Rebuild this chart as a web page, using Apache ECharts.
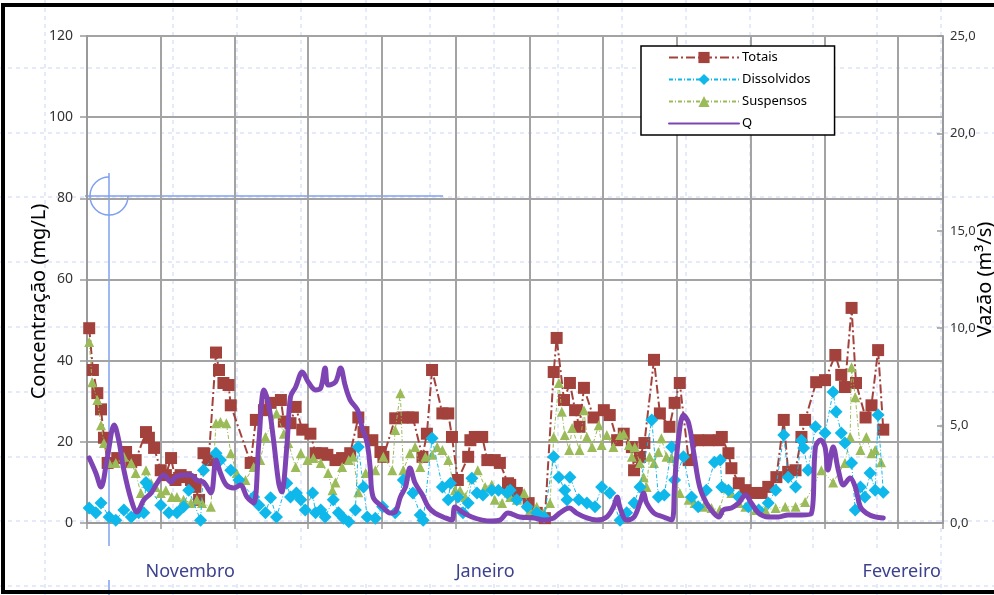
<!DOCTYPE html>
<html><head><meta charset="utf-8">
<script src="https://cdn.jsdelivr.net/npm/echarts@6/dist/echarts.min.js"></script>
<style>html,body{margin:0;padding:0;background:#fff}#c{width:994px;height:595px}</style>
</head><body><div id="c"></div>
<script>
// ---- Data (x = day index) ----
const totaisDia = [0.3,0.8,1.4,1.9,2.3,2.8,4.1,5.3,6.0,6.6,8.0,8.4,9.1,10.0,10.7,11.4,12.0,12.7,13.4,14.1,14.7,15.2,15.8,16.5,17.5,17.9,18.5,19.2,19.5,22.2,22.9,24.0,24.9,26.3,26.7,27.6,28.3,29.2,30.3,31.0,31.9,32.6,33.7,34.6,35.7,36.8,37.5,38.7,39.8,40.2,41.8,42.8,43.6,44.2,45.5,46.1,46.8,48.2,49.0,49.5,50.3,51.7,52.0,52.6,53.6,54.3,55.3,56.0,57.1,57.4,58.3,59.9,61.0,62.1,63.3,63.7,64.7,65.5,66.2,66.8,67.4,68.7,70.1,70.9,71.9,72.8,73.9,74.2,75.0,75.6,76.9,77.7,79.0,79.7,80.4,81.6,82.9,84.3,85.7,86.1,87.0,87.4,88.4,89.3,90.7,91.5,92.4,93.5,94.5,95.1,96.1,96.9,97.4,98.9,100.1,101.5,102.3,102.8,103.7,104.3,105.6,106.4,107.3,108.0];
const totaisVal = [48,37.7,32,28,21,14.8,16,17.5,15,15.5,22.4,21,18.5,13,11.8,16,10.6,11.8,11.3,10.6,8.9,5.7,17.2,15.5,42,37.7,34.5,34,29,14.8,25.4,27.8,29.6,30.3,25,24.6,28.6,23,22,17.2,17.2,16.8,15.5,16,17.2,26,22.4,20.4,17.5,16.3,25.8,26,26,26,16.3,22,37.7,27,27,21.2,10.6,16.3,20.4,21.2,21.2,15.5,15.5,14.8,9.8,9.4,7.4,4.9,2.5,1.2,37.2,45.6,30.3,34.5,27.8,23.7,33.3,26,27.8,26.6,20.4,22,18.7,13,16.3,19.7,40.2,27,23.7,29.6,34.5,15.5,20.4,20.4,20.4,21.2,17.2,13.5,9.8,8.1,7.4,7.4,8.9,11.3,25.4,12.6,13,21.2,25.4,34.7,35.2,41.4,36.5,33.5,53,34.5,26,29,42.6,23];

const dissolvidosDia = [0.3,1.2,1.9,3.0,3.9,5.0,6.0,7.0,7.7,8.0,8.4,10.0,11.1,12.2,13.1,13.8,15.4,15.8,17.5,18.1,19.5,20.6,22.6,23.3,24.2,24.9,25.7,27.1,27.6,28.4,29.0,29.6,30.6,31.0,31.7,32.3,33.4,34.1,34.8,35.5,36.4,36.8,37.5,38.0,39.1,40.1,41.8,42.9,44.2,45.2,45.6,46.8,48.2,49.0,49.3,50.3,51.0,51.7,52.2,52.9,53.7,54.9,55.8,57.0,57.4,58.3,59.7,61.0,62.0,63.3,64.0,64.8,65.1,65.5,66.7,67.8,68.9,69.8,70.9,72.3,73.2,74.2,75.0,76.6,77.5,78.3,79.3,79.7,80.9,82.0,82.9,84.0,85.1,85.9,86.1,87.0,88.4,89.7,91.1,92.4,93.4,94.5,95.1,96.1,96.9,97.2,97.8,98.8,100.1,101.2,101.6,102.3,102.8,103.7,104.2,104.9,105.5,106.2,106.9,107.3,108.0];
const dissolvidosVal = [3.7,2.5,4.9,1.5,0.7,3.2,1.5,2.5,2.5,10,8.9,4.4,2.5,2.5,4,8.1,0.7,13,17.2,15.5,13,10.6,6.4,4.4,2.5,6.2,1.5,9.8,6.4,7.4,5.7,3.2,7.4,2.5,3.2,1.5,5.7,2.5,1.2,0.3,3.2,18.7,8.9,1.5,1.2,4,2.5,10.6,7.4,2,0.7,20.9,8.9,5.7,9.8,6.4,2.5,4.9,11,7.4,6.9,8.1,8.1,7.4,8.1,5.7,4,2.5,1.5,16.3,11.3,8.1,5.7,11.3,5.7,4.9,4,8.9,7.4,0.7,2.5,4.9,8.9,25.4,6.4,6.9,18.7,10.6,16.3,6.4,4,8.1,15,15.5,8.9,8.1,6.4,4,3.2,4.9,8.1,21.7,11.3,8.9,20.4,18.5,13,23.7,22.2,32.3,27.4,22.2,19.7,14.8,3.2,8.9,6.4,12.3,8.1,26.6,7.6];

const suspensosDia = [0.3,0.7,1.4,1.9,2.3,3.0,3.9,5.0,6.0,6.6,7.3,8.0,8.7,9.3,10.0,10.7,11.5,12.2,13.1,14.1,14.9,15.6,16.8,17.5,18.1,18.9,19.5,20.3,21.5,22.6,23.5,24.2,25.7,26.7,27.3,28.3,29.0,29.9,30.7,31.7,32.7,33.3,33.7,34.6,35.5,36.1,36.8,37.8,39.1,40.2,41.4,41.8,42.5,42.9,43.8,44.5,45.2,45.9,46.8,47.5,48.2,49.0,49.9,50.6,51.3,52.2,53.0,54.0,54.9,55.3,56.3,57.0,57.4,58.3,59.3,60.1,61.0,62.0,62.8,63.3,64.0,64.4,64.8,65.4,65.8,66.8,67.4,67.8,68.5,69.4,69.8,70.5,71.4,72.3,72.8,73.5,73.9,74.3,75.0,75.5,75.9,76.3,76.9,77.5,77.9,78.6,79.3,80.4,81.6,82.4,83.6,84.7,85.8,86.6,87.4,88.4,89.3,90.7,92.0,93.4,94.7,96.1,97.4,99.6,101.2,102.8,103.5,103.7,104.2,104.9,105.7,106.4,106.9,107.7];
const suspensosVal = [44.6,34.7,30.3,24.1,19.7,14.8,14.8,16.3,14.8,12.3,7.4,13,9.8,8.9,7.4,8.1,6.4,6.4,5.7,4.9,5.7,4.9,4,24.6,24.9,24.6,17.2,12.3,10.6,13.8,15.5,21.2,27,22,19.7,13.8,17.2,15.5,16,14.8,12.3,8.1,10,13.8,15.5,16.3,7.6,12.3,13,16.3,13,22.9,32,13,17.2,18.7,13.8,16.3,16.8,18.7,18,15.5,8.1,8.1,6.4,11.3,13,8.9,9.4,5.7,4.9,8.1,6.4,5.7,7.4,3.2,4,2.5,4.9,21.2,34.5,27.4,21.7,18,23.4,18,27.8,21.2,18.7,24.1,19.2,21.7,18.7,21.7,22,19.2,16.3,18.7,14.8,11.3,8.9,16.3,14.8,17.5,20.9,16.3,16,7.4,5.7,4.9,4,3.7,3.2,8.6,7.4,4.9,4,3.2,3.2,3.7,4,4,5.2,13,10,14.8,21.2,38.4,31,18,21.2,17.2,18,15];

const vazaoDia = [0.3,1.2,1.9,2.7,3.7,4.3,5.0,6.0,6.8,7.7,8.7,9.5,10.4,11.4,12.0,13.1,14.1,14.9,15.8,16.8,17.5,18.1,18.9,19.9,20.8,21.7,22.6,23.3,24.0,24.6,25.3,26.0,26.4,27.1,27.6,28.3,29.2,30.0,31.0,31.7,32.3,32.7,33.7,34.4,35.0,35.7,36.7,37.3,38.0,38.4,38.8,40.1,41.1,41.8,42.5,43.2,43.8,44.5,45.5,46.3,47.2,48.6,49.5,49.9,50.9,52.2,53.6,54.9,56.0,57.1,58.7,60.6,62.0,63.3,64.1,65.4,66.4,67.8,69.1,70.5,71.4,71.9,72.3,73.2,74.2,75.0,75.5,75.9,76.9,78.2,79.3,79.7,80.2,80.9,81.6,82.3,83.1,84.0,85.0,85.7,86.3,87.4,88.4,89.3,90.1,91.1,92.4,93.8,95.1,96.9,98.2,98.8,99.5,100.1,100.5,101.2,101.9,102.6,103.5,104.2,104.9,105.7,106.9,108.0];
const vazaoVal = [3.34,2.57,1.85,3.23,5.03,4.26,2.72,1.18,0.56,1.18,1.54,2.05,2.46,2.1,2.36,2.46,2.46,2.2,2.1,1.54,3.23,2.57,1.95,1.8,1.95,1.33,1.03,4.1,6.83,6.16,4.26,2.05,1.6,3.9,6.47,6.98,7.75,7.24,6.83,6.93,7.96,7.08,7.24,7.96,7.08,6.31,5.8,4.93,4.1,2.87,1.33,0.82,0.51,0.56,1.33,1.85,2.82,2.05,1.44,0.82,0.51,0.26,0.15,0.82,0.56,0.31,0.15,0.1,0.15,0.51,0.31,0.26,0.15,0.26,0.51,0.77,0.51,0.26,0.15,0.31,0.82,1.33,0.77,0.15,0.31,1.03,1.54,1.03,0.51,0.31,0.15,2.05,4.26,5.54,5.13,3.59,1.85,1.03,0.51,0.31,0.67,0.77,1.03,1.44,1.03,0.51,0.31,0.31,0.41,0.41,0.46,3.9,4.26,3.9,2.72,3.9,2.72,1.95,2.31,1.85,0.82,0.51,0.31,0.26];

const yRightTicks = ['0,0','5,0','10,0','15,0','20,0','25,0'];
const meses = ['Novembro','Janeiro','Fevereiro'];
const mesesDia = [14.0, 54.0, 110.5];

const zip = (a,b) => a.map((x,i) => [x, b[i]]);

const chart = echarts.init(document.getElementById('c'), null, {renderer:'canvas'});
const FONT = 'Noto Sans';

// background artifacts (page-layout dashed guides, crosshair, frame)
const gfx = [];
const dashH = [68,133,197,262,327,392,457,521,586];
const dashV = [45,173,237,301,366,430,494,558,622,686,750,813,877,941];
dashH.forEach(y => gfx.push({type:'line', z:-10, silent:true, shape:{x1:0,y1:y,x2:994,y2:y}, style:{stroke:'#c9d5f5', lineWidth:1, lineDash:[4,4]}}));
dashV.forEach(x => gfx.push({type:'line', z:-10, silent:true, shape:{x1:x,y1:0,x2:x,y2:595}, style:{stroke:'#c9d5f5', lineWidth:1, lineDash:[4,4]}}));
gfx.push({type:'rect', z:-9, silent:true, shape:{x:100,y:548,width:830,height:32}, style:{fill:'#fff'}});
gfx.push({type:'line', z:-5, silent:true, shape:{x1:109,y1:173,x2:109,y2:546}, style:{stroke:'#7fa0f0', lineWidth:1.5}});
gfx.push({type:'line', z:-5, silent:true, shape:{x1:109,y1:580,x2:109,y2:595}, style:{stroke:'#7fa0f0', lineWidth:1.5}});
gfx.push({type:'line', z:-5, silent:true, shape:{x1:85,y1:196,x2:443,y2:196}, style:{stroke:'#7fa0f0', lineWidth:1.5}});
gfx.push({type:'arc', z:-5, silent:true, shape:{cx:109,cy:196,r:19,startAngle:0,endAngle:Math.PI*1.5}, style:{stroke:'#7fa0f0', lineWidth:1.5, fill:null}});
gfx.push({type:'rect', z:50, silent:true, shape:{x:3,y:5,width:1010,height:587}, style:{fill:null, stroke:'#000', lineWidth:4}});
meses.forEach((m,i) => gfx.push({type:'text', z:20, silent:true, style:{text:m, x:0, y:0, font:'18px "'+FONT+'"', fill:'#3d4190', align:'center', verticalAlign:'middle'}, __dia:mesesDia[i]}));

const option = {
  animation:false,
  backgroundColor:'#fff',
  textStyle:{fontFamily:FONT},
  grid:{left:87, right:51, top:36, bottom:72, containLabel:false, outerBoundsMode:'none'},
  legend:{
    orient:'vertical', left:641, top:46,
    padding:[5,24,5,27], itemWidth:70, itemHeight:14, itemGap:9,
    backgroundColor:'#fff', borderColor:'#000', borderWidth:1.5, borderRadius:0,
    textStyle:{fontFamily:FONT, fontSize:13, color:'#000', padding:[0,0,0,-2]},
    data:['Totais','Dissolvidos','Suspensos',{name:'Q', itemStyle:{opacity:0}}]
  },
  xAxis:{
    type:'value', min:0, max:116.1, interval:10,
    axisLine:{show:true, lineStyle:{color:'#9a9a9a', width:2}},
    axisTick:{show:true, length:6, lineStyle:{color:'#9a9a9a', width:1.5}},
    axisLabel:{show:false},
    splitLine:{show:true, lineStyle:{color:'#a3a3a3', width:2}}
  },
  yAxis:[{
    type:'value', min:0, max:120, interval:20, position:'left',
    name:'Concentração (mg/L)', nameLocation:'middle', nameGap:38, nameRotate:90, nameMoveOverlap:false,
    nameTextStyle:{fontFamily:FONT, fontSize:20, color:'#000', padding:[0,44,0,0]},
    axisLine:{show:true, lineStyle:{color:'#9a9a9a', width:2}},
    axisTick:{show:true, length:7, lineStyle:{color:'#9a9a9a', width:1.5}},
    axisLabel:{fontFamily:FONT, fontSize:14, color:'#333', margin:14, formatter:v => String(v)},
    splitLine:{show:true, lineStyle:{color:'#a3a3a3', width:2}}
  },{
    type:'value', min:0, max:25, interval:5, position:'right',
    name:'Vazão (m³/s)', nameLocation:'middle', nameGap:32, nameRotate:90, nameMoveOverlap:false,
    nameTextStyle:{fontFamily:FONT, fontSize:20, color:'#000'},
    axisLine:{show:true, lineStyle:{color:'#9a9a9a', width:2}},
    axisTick:{show:true, length:6, inside:true, lineStyle:{color:'#9a9a9a', width:1.5}},
    axisLabel:{fontFamily:FONT, fontSize:13, color:'#333', margin:7, formatter:v => yRightTicks[Math.round(v/5)]},
    splitLine:{show:false}
  }],
  series:[
    {name:'Totais', type:'line', yAxisIndex:0, data:zip(totaisDia,totaisVal), z:3,
      symbol:'rect', symbolSize:12, itemStyle:{color:'#a3423c'},
      lineStyle:{color:'#a3423c', width:2, type:[9,3,2,3]}},
    {name:'Suspensos', type:'line', yAxisIndex:0, data:zip(suspensosDia,suspensosVal), z:4,
      symbol:'triangle', symbolSize:10, itemStyle:{color:'#9bbb59'},
      lineStyle:{color:'#9bbb59', width:1, type:[4,2,1,2]}},
    {name:'Dissolvidos', type:'line', yAxisIndex:0, data:zip(dissolvidosDia,dissolvidosVal), z:5,
      symbol:'diamond', symbolSize:13, itemStyle:{color:'#0fb8ea'},
      lineStyle:{color:'#0fb8ea', width:1, type:[4,2,1,2]}},
    {name:'Q', type:'line', yAxisIndex:1, data:zip(vazaoDia,vazaoVal), z:6,
      symbol:'none', smooth:0.35, itemStyle:{color:'#7f44b4'},
      lineStyle:{color:'#7f44b4', width:5, cap:'round', join:'round'}}
  ]
};
chart.setOption(option);
// place month labels using the x scale
const gfxOut = gfx.map(g => {
  if (g.__dia !== undefined) {
    const p = chart.convertToPixel({xAxisIndex:0}, g.__dia);
    const o = Object.assign({}, g); delete o.__dia;
    o.x = p; o.y = 572;
    return o;
  }
  return g;
});
chart.setOption({graphic:gfxOut});
</script>
</body></html>
